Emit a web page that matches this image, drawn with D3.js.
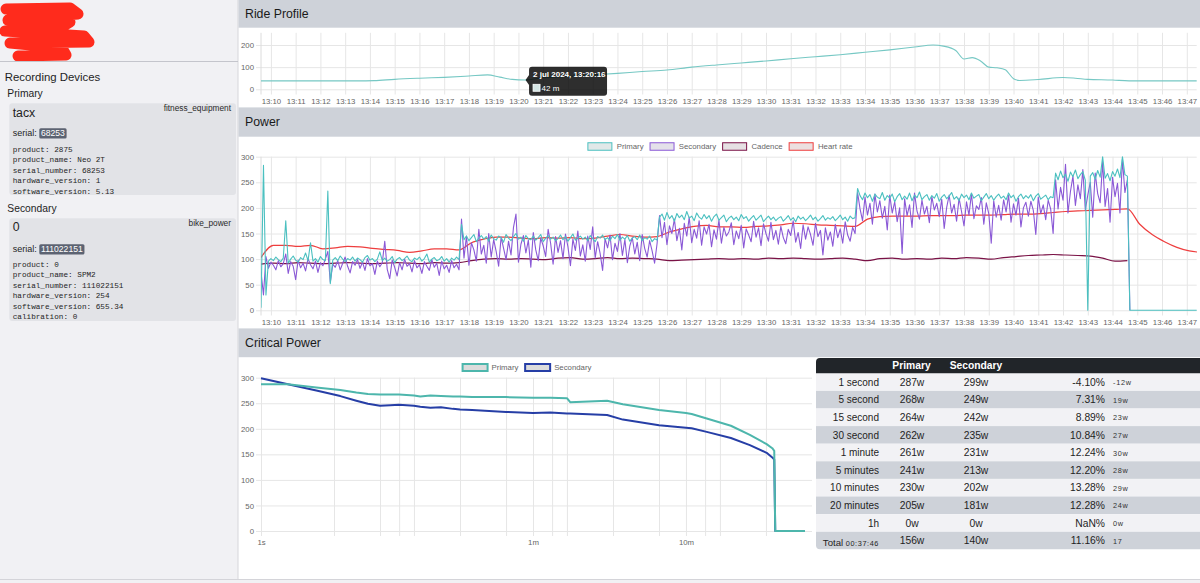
<!DOCTYPE html>
<html><head><meta charset="utf-8">
<script src="https://cdn.jsdelivr.net/npm/d3@7"></script>
<style>
html,body{margin:0;padding:0;background:#fff;}
svg{display:block;}
</style></head><body>
<svg id="c" width="1200" height="583"></svg>
<script>
// ================= DATA =================
const rideTimes = ["13:09:36","13:10:30","13:11:30","13:12:30","13:13:30","13:14:10","13:15:00","13:16:00","13:17:00","13:18:00","13:18:45","13:19:15","13:19:45","13:20:16","13:21:00","13:22:00","13:23:00","13:24:00","13:25:00","13:26:00","13:27:00","13:28:00","13:29:00","13:30:00","13:31:00","13:32:00","13:33:00","13:34:00","13:35:00","13:36:00","13:36:45","13:37:10","13:37:40","13:38:00","13:38:20","13:38:40","13:39:00","13:39:20","13:39:40","13:40:00","13:40:15","13:41:00","13:42:00","13:42:30","13:43:00","13:44:00","13:44:40","13:45:00","13:46:00","13:47:24"];
const rideElevation = [38,38,38,38,38,39,45,50,54,60,65,55,45,42,52,58,65,72,80,87,100,110,119,128,138,147,156,167,178,191,200,195,175,137,143,128,100,97,88,48,40,44,53,50,45,42,38,38,38,38];
const rideTicks = [0,100,200];
const tooltipTime = "13:20:16";
const tooltipTitle = "2 jul 2024, 13:20:16";
const tooltipValue = "42 m";

const powerStartTime = "13:09:36";
const powerStepSeconds = 6;
const primaryPower = [
5,283,30,96,101,97,104,99,95,102,
175,92,100,106,98,94,103,99,112,97,
132,96,101,94,105,99,97,233,52,98,
103,97,106,100,95,101,98,104,96,102,
99,94,103,107,98,101,95,100,114,97,
102,96,99,105,93,100,103,97,101,106,
98,95,102,99,104,96,101,110,94,100,
103,97,99,105,96,101,94,102,98,104,
99,168,138,145,136,142,148,134,141,146,
139,144,135,147,140,137,145,142,133,148,
141,136,144,150,139,143,135,146,140,138,
145,137,142,148,134,141,146,139,143,136,
140,147,138,144,135,142,149,137,141,145,
139,143,136,146,140,134,144,141,147,138,
142,136,145,140,148,137,143,139,146,135,
141,144,138,147,136,142,139,145,134,140,
137,182,188,176,191,179,185,174,189,181,
186,177,193,180,184,175,190,182,178,187,
179,185,174,183,188,176,181,186,173,180,
184,177,182,175,187,179,183,174,180,185,
176,181,186,173,179,184,177,182,175,180,
183,174,179,185,176,181,173,184,178,182,
175,180,186,177,182,174,179,185,176,181,
178,183,175,180,186,177,182,174,184,179,
181,238,224,216,229,220,226,213,227,221,
218,230,215,224,219,227,212,222,228,216,
223,217,229,214,225,220,231,216,222,226,
215,224,219,228,213,221,226,218,223,230,
217,222,214,227,220,225,216,229,219,223,
226,214,221,228,218,224,215,222,227,219,
223,216,229,220,225,213,222,227,218,224,
219,226,214,223,228,217,221,225,216,222,
220,268,255,272,259,266,252,270,261,274,
257,265,271,254,0,262,269,256,273,260,
300,258,267,253,271,262,276,259,300,265,
262,0,0,0,0,0,0,0,0,0,
0,0,0,0,0,0,0,0,0,0,
0,0,0,0,0,0,0,0,0];
const secondaryPower = [
75,30,105,82,94,88,79,97,85,91,
110,72,95,86,60,98,83,92,77,101,
89,81,96,74,93,87,100,115,55,90,
84,97,79,92,104,86,73,95,88,99,
82,94,78,101,87,91,70,96,85,93,
135,80,62,98,84,67,93,79,100,86,
91,75,97,83,89,72,95,86,78,99,
84,92,68,96,81,88,74,97,83,90,
79,178,102,145,88,132,118,96,158,110,
127,92,150,104,138,115,86,143,121,99,
135,108,162,188,94,129,146,112,137,84,
152,118,97,141,126,105,158,131,90,144,
113,136,101,149,124,87,139,117,155,106,
128,96,145,119,163,102,134,111,78,140,
122,147,99,131,115,150,107,138,93,126,
142,110,133,97,148,121,104,136,116,92,
130,185,142,172,128,165,150,178,136,160,
118,170,145,182,132,158,141,175,127,163,
149,168,124,157,139,176,131,162,145,153,
171,128,155,140,166,122,159,147,134,174,
143,161,126,169,150,135,172,138,156,129,
164,142,130,158,146,175,133,152,121,167,
139,163,148,127,170,144,156,108,161,137,
153,125,168,142,159,131,173,147,135,162,
150,230,198,175,221,186,209,168,227,192,
214,180,203,157,225,190,212,173,200,111,
218,185,206,162,229,194,178,215,188,203,
171,222,196,209,183,217,160,201,225,190,
207,174,219,193,165,212,186,228,179,204,
197,220,168,210,189,131,214,182,205,176,
216,192,225,172,208,186,219,163,200,211,
184,213,195,148,221,189,206,177,215,198,
150,255,198,240,215,285,190,232,262,205,
245,218,275,196,225,250,182,268,228,210,
290,203,238,172,260,222,248,190,295,230,
255,0];
const slowStepSeconds = 30;
const heartRate = [103,127,127,125,127,120,122,125,124,121,119,117,113,116,120,120,118,132,139,143,143,141,140,142,141,142,140,141,145,148,145,143,144,153,159,164,166,163,163,162,164,165,167,170,169,167,166,165,164,178,183,184,184,184,185,185,185,186,186,186,187,188,188,189,191,193,194,195,196,197,198,168,148,134,123,116,113];
const cadence = [90,92,91,93,92,91,92,93,92,91,92,93,92,91,93,92,93,97,100,101,100,101,100,99,102,103,100,101,103,101,102,101,100,97,98,99,100,101,100,101,100,102,101,102,101,100,101,102,100,97,101,102,100,101,100,102,101,103,102,100,103,105,107,108,109,108,107,106,102,96,97];
const powerTicks = [0,50,100,150,200,250,300];
const powerSeries = ["Primary","Secondary","Cadence","Heart rate"];
const powerColors = ["#4bc0c0","#8a58d6","#7a1246","#ee3e3e"];

const cpDurations = [1,1.5,2.3,3.3,4.2,5,6,7,8,10,11,12.8,15,18,20,24,40,60,78,100,105,183,232,400,600,654,820,1180,1570,2020,2200,2266,2300,3600];
const cpPrimary   = [287,287,281,276,271,268,267,267,267,265,263,265,264,263,263,262,262,261,261,260,252,255,248,237,231,229,220,206,188,170,162,157,0,0];
const cpSecondary = [299,287,275,264,255,249,245,246,247,245,243,241,242,239,238,237,233,231,232,230,230,227,218,207,202,201,194,182,168,153,144,140,0,0];
const cpGridTicks = [1,3,6,8,10,20,40,60,80,100,200,400,600,800,1000,2000];
const cpLabelTicks = [1,60,600];
const cpLabelText = ["1s","1m","10m"];
const cpSeries = ["Primary","Secondary"];
const cpColors = ["#4db6ac","#263ea6"];

const tableLabels = ["1 second","5 second","15 second","30 second","1 minute","5 minutes","10 minutes","20 minutes","1h"];
const tablePrimary = ["287w","268w","264w","262w","261w","241w","230w","205w","0w"];
const tableSecondary = ["299w","249w","242w","235w","231w","213w","202w","181w","0w"];
const tablePct = ["-4.10%","7.31%","8.89%","10.84%","12.24%","12.20%","13.28%","12.28%","NaN%"];
const tableDiff = ["-12w","19w","23w","27w","30w","28w","29w","24w","0w"];
const tableTotal = ["Total","00:37:46","156w","140w","11.16%","17"];

const devPrimary = {role:"Primary", name:"tacx", type:"fitness_equipment", serial:"68253",
  info:["product: 2875","product_name: Neo 2T","serial_number: 68253","hardware_version: 1","software_version: 5.13"]};
const devSecondary = {role:"Secondary", name:"0", type:"bike_power", serial:"111022151",
  info:["product: 0","product_name: SPM2","serial_number: 111022151","hardware_version: 254","software_version: 655.34","calibration: 0"]};

// ================= DRAW =================
const FONT = '"Liberation Sans", Arial, Helvetica, sans-serif';
const MONO = '"Liberation Mono", "DejaVu Sans Mono", monospace';
const GRID = "#e6e6e6";
const HEAD = "#ced2d9";
const svg = d3.select("#c").attr("font-family", FONT);
const parseT = s => new Date("2024-07-02T" + s);

svg.append("rect").attr("width",1200).attr("height",583).attr("fill","#fff");
svg.append("rect").attr("x",0).attr("y",0).attr("width",238).attr("height",583).attr("fill","#f1f1f4");
svg.append("rect").attr("x",0).attr("y",579.5).attr("width",1200).attr("height",4).attr("fill","#f1f1f4");
svg.append("line").attr("x1",0).attr("x2",1200).attr("y1",579.5).attr("y2",579.5).attr("stroke","#d4d4d9");
svg.append("line").attr("x1",238).attr("x2",238).attr("y1",0).attr("y2",579).attr("stroke","#d6d6db");

// redaction scribble
svg.append("path").attr("d","M6,9 L70,8 L78,14 L8,20 L70,22 L60,28 L5,31 L84,36 L89,42 L10,43 L62,48 L66,55 L18,56")
  .attr("fill","none").attr("stroke","#ff2b1c").attr("stroke-width",11)
  .attr("stroke-linejoin","round").attr("stroke-linecap","round");
svg.append("line").attr("x1",0).attr("x2",238).attr("y1",61.5).attr("y2",61.5).attr("stroke","#c4c5cc");

// sidebar
svg.append("text").attr("x",4.7).attr("y",80.7).attr("font-size",11.4).attr("fill","#1e1e1e").text("Recording Devices");
function deviceCard(dev, roleY, cardY, cardH, nameY, typeY, serialY, infoY) {
  svg.append("text").attr("x",7.3).attr("y",roleY).attr("font-size",10.3).attr("fill","#1e1e1e").text(dev.role);
  svg.append("rect").attr("x",9.3).attr("y",cardY).attr("width",226.7).attr("height",cardH).attr("rx",3).attr("fill","#e2e3e7");
  svg.append("text").attr("x",12.7).attr("y",nameY).attr("font-size",12.3).attr("fill","#1e1e1e").text(dev.name);
  svg.append("text").attr("x",231).attr("y",typeY).attr("text-anchor","end").attr("font-size",8.3).attr("fill","#2a2a2a").text(dev.type);
  svg.append("text").attr("x",12.7).attr("y",serialY).attr("font-size",9).attr("fill","#1e1e1e").text("serial:");
  const t = svg.append("text").attr("x",41).attr("y",serialY).attr("font-size",8.6).attr("fill","#fff").text(dev.serial);
  const w = t.node().getComputedTextLength();
  svg.insert("rect","text:last-of-type").attr("x",39.3).attr("y",serialY-8).attr("width",w+3.4).attr("height",10.3).attr("rx",1.5).attr("fill","#5c6372");
  t.raise();
  svg.selectAll(null).data(dev.info).join("text")
    .attr("x",12.7).attr("y",(d,i)=>infoY + i*10.45).attr("font-family",MONO).attr("font-size",7.7)
    .attr("fill","#1e1e1e").attr("xml:space","preserve").text(d=>d);
}
deviceCard(devPrimary, 96.7, 103.3, 91.7, 116.7, 111, 136.3, 151.7);
deviceCard(devSecondary, 212, 218.3, 102.7, 230.7, 226, 252.3, 266.7);

// header bars
[["Ride Profile",0,27.7],["Power",107.4,136.7],["Critical Power",328.4,357.2]].forEach(([t,y0,y1])=>{
  svg.append("rect").attr("x",238.5).attr("y",y0).attr("width",961.5).attr("height",y1-y0).attr("fill",HEAD);
  svg.append("text").attr("x",245).attr("y",(y0+y1)/2).attr("dy","0.36em").attr("font-size",12.3).attr("fill","#1a1a1a").text(t);
});

// ---- helpers ----
function styleAxis(g){
  g.attr("font-size",null).attr("font-family",null);
  g.select(".domain").remove();
  g.selectAll("text").attr("fill","#666").attr("font-size",7.8).attr("font-family",FONT);
}
function gridX(scale, vals, yTop, yBot){
  svg.append("g").attr("transform",`translate(0,${yBot})`)
    .call(d3.axisBottom(scale).tickValues(vals).tickSize(-(yBot-yTop)).tickFormat(""))
    .call(styleAxis).call(g=>g.selectAll("line").attr("stroke",GRID));
}
function gridY(scale, vals, xLeft, xRight){
  svg.append("g").attr("transform",`translate(${xLeft},0)`)
    .call(d3.axisRight(scale).tickValues(vals).tickSize(xRight-xLeft).tickFormat(""))
    .call(styleAxis).call(g=>g.selectAll("line").attr("stroke",GRID));
}
function labelsX(scale, vals, fmt, yc){
  svg.append("g").attr("transform",`translate(0,${yc})`)
    .call(d3.axisBottom(scale).tickValues(vals).tickSize(0).tickPadding(0).tickFormat(fmt))
    .call(styleAxis).call(g=>g.selectAll("text").attr("y",0).attr("dy","0.35em"));
}
function labelsY(scale, vals, xr){
  svg.append("g").attr("transform",`translate(${xr},0)`)
    .call(d3.axisLeft(scale).tickValues(vals).tickSize(0).tickPadding(0))
    .call(styleAxis).call(g=>g.selectAll("text").attr("x",0).attr("dy","0.33em"));
}
function legend(names, colors, cx, cy, boxW, boxH, bw, gapT, gapN, fills){
  const g = svg.append("g");
  let x = 0;
  names.forEach((n,i)=>{
    g.append("rect").attr("x",x+bw/2).attr("y",cy-boxH/2+bw/2).attr("width",boxW-bw).attr("height",boxH-bw)
      .attr("fill",fills[i]).attr("stroke",colors[i]).attr("stroke-width",bw);
    const t = g.append("text").attr("x",x+boxW+gapT).attr("y",cy).attr("dy","0.35em")
      .attr("font-size",7.8).attr("fill","#666").text(n);
    x += boxW + gapT + t.node().getComputedTextLength() + gapN;
  });
  g.attr("transform",`translate(${cx-(x-gapN)/2},0)`);
}

// ---- shared time scale ----
const x = d3.scaleTime().domain([parseT("13:09:36"), parseT("13:47:24")]).range([261, 1196.7]);
const minuteTicks = d3.timeMinute.range(parseT("13:10:00"), parseT("13:47:30"));
const fmtHM = d3.timeFormat("%H:%M");

// ================= RIDE PROFILE =================
const yR = d3.scaleLinear().domain([0,255]).range([89.3, 32.8]);
gridX(x, minuteTicks, 32.8, 94.5);
gridY(yR, rideTicks, 256, 1196.7);
svg.append("line").attr("x1",261).attr("x2",261).attr("y1",32.8).attr("y2",94.5).attr("stroke","#dcdcdc");
labelsY(yR, rideTicks, 254);
labelsX(x, minuteTicks, fmtHM, 101);
const rideData = rideTimes.map((t,i)=>({t:parseT(t), v:rideElevation[i]}));
svg.append("path").datum(rideData).attr("fill","none").attr("stroke","#76c8c4").attr("stroke-width",1.1)
  .attr("d", d3.line().x(d=>x(d.t)).y(d=>yR(d.v)).curve(d3.curveMonotoneX));

// tooltip
{
  const px = x(parseT(tooltipTime)), py = yR(rideElevation[rideTimes.indexOf(tooltipTime)]);
  const bx = px+4, by = py-13.3, bw = 78, bh = 29;
  const g = svg.append("g");
  g.append("path").attr("d",`M${bx+3},${by} H${bx+bw-3} Q${bx+bw},${by} ${bx+bw},${by+3} V${by+bh-3} Q${bx+bw},${by+bh} ${bx+bw-3},${by+bh} H${bx+3} Q${bx},${by+bh} ${bx},${by+bh-3} V${py+5} L${px+0.5},${py} L${bx},${py-5} V${by+3} Q${bx},${by} ${bx+3},${by} Z`)
    .attr("fill","rgba(0,0,0,0.82)");
  g.append("text").attr("x",bx+4).attr("y",by+10.5).attr("font-size",8).attr("font-weight","bold").attr("fill","#fff").text(tooltipTitle);
  g.append("rect").attr("x",bx+4).attr("y",by+17.6).attr("width",7).attr("height",7).attr("fill","#d5e6e5").attr("stroke","#fff").attr("stroke-width",0.8);
  g.append("text").attr("x",bx+12.5).attr("y",by+24.2).attr("font-size",8).attr("fill","#fff").text(tooltipValue);
}

// ================= POWER =================
const yP = d3.scaleLinear().domain([0,300]).range([310.3, 156.7]);
gridX(x, minuteTicks, 156.7, 315.5);
gridY(yP, powerTicks, 256, 1196.7);
svg.append("line").attr("x1",261).attr("x2",261).attr("y1",156.7).attr("y2",315.5).attr("stroke","#dcdcdc");
labelsY(yP, powerTicks, 254);
labelsX(x, minuteTicks, fmtHM, 322);
legend(powerSeries, powerColors, 720, 146.5, 25, 8.5, 1, 4.3, 6, ["#e1e8e8","#e4e1ea","#e6e0e3","#ece0e0"]);

svg.append("clipPath").attr("id","clipP").append("rect").attr("x",261).attr("y",153).attr("width",936).attr("height",160);
const t0 = parseT(powerStartTime).getTime();
const mk = (arr, step) => arr.map((v,i)=>({t:new Date(t0 + i*step*1000), v}));
const lineP = d3.line().defined(d=>d.v!=null).x(d=>x(d.t)).y(d=>yP(d.v));
const pg = svg.append("g").attr("clip-path","url(#clipP)");
const powerData = [mk(heartRate, slowStepSeconds), mk(cadence, slowStepSeconds), mk(secondaryPower, powerStepSeconds), mk(primaryPower, powerStepSeconds)];
const drawOrder = [3,2,1,0];
powerData.forEach((d,k)=>{
  pg.append("path").datum(d).attr("fill","none").attr("stroke",powerColors[drawOrder[k]])
    .attr("stroke-width", drawOrder[k]>=2 ? 1.2 : 1.1).attr("stroke-linejoin","round")
    .attr("d", drawOrder[k]>=2 ? lineP.curve(d3.curveMonotoneX)(d) : lineP.curve(d3.curveLinear)(d));
});

// ================= CRITICAL POWER =================
const xC = d3.scaleLog().domain([1,3600]).range([261, 805]);
const yC = d3.scaleLinear().domain([0,300]).range([531, 377.7]);
gridX(xC, cpGridTicks, 377.7, 536);
gridY(yC, powerTicks, 256, 812);
labelsY(yC, powerTicks, 254);
labelsX(xC, cpLabelTicks, (d,i)=>cpLabelText[cpLabelTicks.indexOf(d)], 542.3);
legend(cpSeries, cpColors, 526.5, 367.5, 27, 9, 2, 3, 5.7, ["#dcdcdc","#dcdcdc"]);
const lineC = d3.line().x(d=>xC(d.s)).y(d=>yC(d.v));
[cpSecondary, cpPrimary].forEach((arr,k)=>{
  const data = cpDurations.map((s,i)=>({s, v:arr[i]}));
  svg.append("path").datum(data).attr("fill","none").attr("stroke", k===0?cpColors[1]:cpColors[0])
    .attr("stroke-width",2).attr("stroke-linejoin","round").attr("d",lineC);
});

// ================= TABLE =================
{
  const tx = 816, hy = 358, hh = 15.3, rh = 17.6, r0 = hy+hh;
  const g = svg.append("g");
  const nRows = tableLabels.length + 1;
  for (let i=0;i<nRows;i++){
    const y = r0 + i*rh, fill = i%2===0 ? "#f2f2f5" : HEAD;
    if (i === nRows-1) {
      g.append("path").attr("d",`M${tx},${y} H1200 V${y+rh} H${tx+4} Q${tx},${y+rh} ${tx},${y+rh-4} Z`).attr("fill",fill);
    } else g.append("rect").attr("x",tx).attr("y",y).attr("width",1200-tx).attr("height",rh).attr("fill",fill);
  }
  g.append("path").attr("d",`M${tx},${hy+hh} V${hy+4} Q${tx},${hy} ${tx+4},${hy} H1200 V${hy+hh} Z`).attr("fill","#212529");
  g.append("text").attr("x",911.5).attr("y",hy+hh/2).attr("dy","0.36em").attr("text-anchor","middle").attr("font-weight","bold").attr("font-size",10.3).attr("fill","#fff").text("Primary");
  g.append("text").attr("x",976).attr("y",hy+hh/2).attr("dy","0.36em").attr("text-anchor","middle").attr("font-weight","bold").attr("font-size",10.3).attr("fill","#fff").text("Secondary");
  const rowY = i => r0 + i*rh + rh/2;
  const put = (xx, y, anchor, txt, fs, extra) => {
    const t = g.append("text").attr("x",xx).attr("y",y).attr("dy","0.36em").attr("text-anchor",anchor).attr("font-size",fs).attr("fill","#1e1e1e").text(txt);
    if (extra) t.attr("letter-spacing",extra);
    return t;
  };
  tableLabels.forEach((lab,i)=>{
    const y = rowY(i);
    put(879, y, "end", lab, 10);
    put(912, y, "middle", tablePrimary[i], 10.3);
    put(976, y, "middle", tableSecondary[i], 10.3);
    put(1105, y, "end", tablePct[i], 10.3);
    put(1113, y+0.5, "start", tableDiff[i], 7.3, 0.7).attr("fill","#333");
  });
  const ty = rowY(tableLabels.length);
  const tt = g.append("text").attr("x",879).attr("y",ty).attr("dy","0.36em").attr("text-anchor","end").attr("fill","#1e1e1e");
  tt.append("tspan").attr("font-size",9.6).text(tableTotal[0] + " ");
  tt.append("tspan").attr("font-size",7.3).attr("letter-spacing",0.6).text(tableTotal[1]);
  put(912, ty, "middle", tableTotal[2], 10.3);
  put(976, ty, "middle", tableTotal[3], 10.3);
  put(1105, ty, "end", tableTotal[4], 10.3);
  put(1113, ty+0.5, "start", tableTotal[5], 7.3, 0.7).attr("fill","#333");
}
</script></body></html>
